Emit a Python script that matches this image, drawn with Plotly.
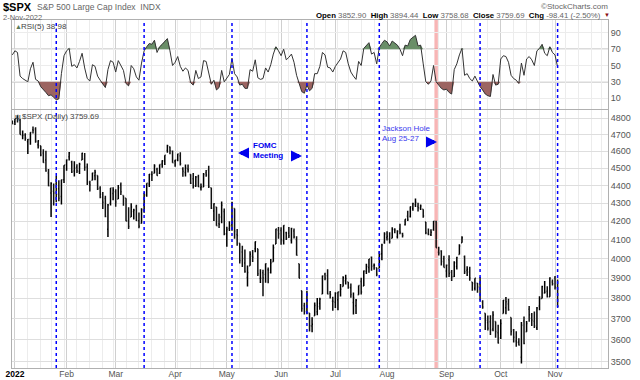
import pandas as pd
import plotly.graph_objects as go
from plotly.subplots import make_subplots

# ---------------- calendar ----------------
holidays = ["2022-01-17", "2022-02-21", "2022-04-15", "2022-05-30", "2022-06-20",
            "2022-07-04", "2022-09-05", "2022-11-24"]
dates = ["2021-12-31"] + [d.strftime("%Y-%m-%d") for d in pd.bdate_range("2022-01-03", "2022-11-02")
                          if d.strftime("%Y-%m-%d") not in holidays]

# ---------------- $SPX daily OHLC ----------------
opens = [4775.21,
 4778.14, 4804.51, 4787.99, 4693.39, 4697.66, 4655.34, 4669.14, 4728.59, 4733.56, 4637.99, 4632.24, 4588.03, 4547.35, 4471.38, 4356.32, 4366.64, 4408.43, 4380.58, 4336.19, 4431.79,
 4519.57, 4566.39, 4535.41, 4482.79, 4505.75, 4480.02, 4547.00, 4553.24, 4506.27, 4412.61, 4429.28, 4455.75, 4456.06, 4384.57, 4332.74, 4324.93, 4155.77, 4298.38, 4354.17,
 4363.14, 4322.56, 4401.31, 4342.12, 4327.01, 4202.66, 4223.10, 4252.55, 4279.50, 4202.75, 4188.82, 4288.14, 4345.11, 4407.34, 4462.40, 4469.10, 4493.10, 4469.98, 4522.91, 4541.09, 4602.86, 4624.20, 4599.02,
 4540.32, 4547.97, 4572.45, 4494.17, 4474.65, 4494.15, 4462.64, 4437.59, 4394.30, 4449.12, 4385.63, 4390.63, 4472.26, 4489.17, 4385.83, 4255.34, 4278.14, 4186.52, 4222.58, 4253.75,
 4130.61, 4159.78, 4181.18, 4270.43, 4128.17, 4081.27, 4035.18, 3978.61, 3903.95, 3963.90, 4013.02, 4052.00, 4051.98, 3899.00, 3927.76, 3919.42, 3942.94, 3929.59, 3984.60, 4077.43, 4151.09,
 4149.78, 4095.41, 4137.57, 4134.72, 4096.47, 4147.12, 4101.65, 3974.39, 3838.15, 3763.52, 3764.05, 3728.18, 3665.90, 3715.31, 3733.89, 3774.71, 3821.75, 3920.76, 3913.00, 3825.09, 3785.99,
 3781.00, 3792.61, 3831.98, 3858.85, 3888.26, 3880.94, 3851.95, 3779.67, 3763.99, 3818.00, 3883.79, 3860.73, 3935.32, 3955.47, 4007.40, 3965.72, 3953.22, 3951.43, 4026.13, 4087.33,
 4112.38, 4104.21, 4107.96, 4154.85, 4115.87, 4155.93, 4133.11, 4181.02, 4227.40, 4225.02, 4269.37, 4290.46, 4280.40, 4273.13, 4266.31, 4195.08, 4133.09, 4126.55, 4153.26, 4198.74, 4034.58, 4041.25, 4000.67,
 3936.73, 3994.66, 3930.89, 3909.43, 3959.94, 4022.94, 4083.67, 4010.00, 3940.73, 3932.41, 3880.95, 3849.91, 3875.23, 3871.40, 3782.36, 3727.14, 3682.72, 3686.44, 3651.94, 3687.01, 3633.48,
 3609.78, 3726.46, 3753.25, 3771.97, 3706.74, 3647.51, 3595.86, 3590.83, 3520.37, 3690.41, 3638.65, 3746.26, 3703.11, 3689.05, 3657.10, 3762.01, 3799.44, 3825.97, 3834.69, 3808.26, 3881.85,
 3901.79, 3852.90]

highs = [4786.83,
 4796.64, 4818.62, 4797.70, 4725.01, 4707.95, 4673.02, 4714.13, 4748.83, 4744.13, 4665.13, 4632.24, 4611.55, 4602.11, 4494.52, 4417.35, 4411.01, 4453.23, 4428.74, 4432.72, 4516.89,
 4550.49, 4595.31, 4542.88, 4539.66, 4521.86, 4531.32, 4590.03, 4588.92, 4526.33, 4426.22, 4472.77, 4489.55, 4456.06, 4394.60, 4362.12, 4341.51, 4294.73, 4385.34, 4388.84,
 4378.45, 4401.48, 4416.78, 4342.12, 4327.01, 4276.94, 4299.40, 4268.28, 4291.01, 4247.57, 4271.05, 4357.86, 4412.67, 4465.40, 4481.75, 4522.00, 4501.07, 4520.58, 4546.03, 4575.65, 4637.30, 4627.77, 4603.07,
 4548.70, 4583.50, 4593.45, 4503.94, 4521.16, 4520.41, 4464.35, 4471.00, 4453.92, 4460.46, 4410.31, 4471.03, 4488.29, 4512.94, 4385.83, 4299.02, 4278.14, 4240.71, 4308.45, 4269.68,
 4169.81, 4200.10, 4307.66, 4270.43, 4157.69, 4081.27, 4068.82, 4049.09, 3964.80, 4038.88, 4046.46, 4090.72, 4051.98, 3945.96, 3943.42, 3975.15, 3955.68, 3999.33, 4075.14, 4158.49, 4168.34,
 4166.54, 4177.51, 4142.67, 4168.78, 4164.86, 4160.14, 4119.10, 3974.39, 3838.15, 3778.18, 3837.56, 3728.18, 3707.71, 3779.65, 3801.79, 3802.58, 3913.65, 3927.72, 3945.86, 3836.50, 3807.50,
 3829.82, 3832.19, 3870.91, 3910.63, 3918.50, 3880.94, 3873.41, 3829.44, 3796.41, 3863.62, 3902.44, 3939.81, 3974.13, 3999.29, 4012.44, 3975.30, 3953.22, 4039.56, 4078.95, 4140.15,
 4144.95, 4140.47, 4167.66, 4161.29, 4151.58, 4186.62, 4137.30, 4211.03, 4257.91, 4280.47, 4301.79, 4325.28, 4302.18, 4292.53, 4266.31, 4195.08, 4159.77, 4156.56, 4200.54, 4203.04, 4062.99, 4044.98, 4015.37,
 3970.23, 4018.43, 3942.55, 3987.89, 4010.50, 4076.81, 4119.28, 4017.00, 3961.94, 3959.14, 3880.95, 3900.45, 3876.01, 3907.07, 3790.68, 3727.14, 3715.67, 3717.53, 3736.74, 3687.01, 3671.44,
 3698.35, 3791.92, 3806.91, 3797.93, 3706.74, 3652.17, 3640.66, 3608.34, 3685.41, 3712.00, 3689.73, 3762.79, 3728.58, 3736.00, 3757.89, 3810.74, 3862.85, 3886.15, 3859.95, 3905.42, 3893.73,
 3911.79, 3894.44]

lows = [4765.75,
 4758.17, 4774.27, 4699.44, 4671.26, 4662.74, 4582.24, 4638.27, 4706.71, 4650.29, 4614.75, 4568.70, 4530.20, 4477.95, 4395.34, 4222.62, 4287.11, 4304.80, 4309.50, 4292.46, 4414.02,
 4483.53, 4544.32, 4470.39, 4451.50, 4471.47, 4465.40, 4547.00, 4484.31, 4401.41, 4364.84, 4429.28, 4429.68, 4373.81, 4327.22, 4267.11, 4221.51, 4114.65, 4286.83, 4315.12,
 4279.54, 4322.56, 4345.56, 4284.98, 4199.85, 4157.87, 4223.10, 4209.80, 4200.49, 4161.72, 4187.90, 4246.69, 4335.65, 4390.57, 4424.30, 4469.10, 4455.81, 4465.17, 4501.07, 4517.69, 4589.66, 4581.32, 4530.41,
 4507.57, 4539.21, 4514.17, 4450.04, 4450.30, 4474.60, 4408.38, 4381.34, 4392.70, 4390.77, 4370.30, 4390.63, 4448.76, 4384.47, 4267.62, 4200.82, 4175.04, 4162.90, 4188.63, 4124.28,
 4062.51, 4147.08, 4148.91, 4106.01, 4067.91, 3975.48, 3958.17, 3928.82, 3858.87, 3963.90, 3983.99, 4033.93, 3911.91, 3876.58, 3810.32, 3877.97, 3875.13, 3925.03, 3984.60, 4077.43, 4104.88,
 4073.85, 4074.37, 4098.67, 4109.18, 4080.19, 4107.20, 4017.17, 3900.16, 3734.30, 3721.56, 3722.30, 3639.77, 3636.87, 3715.31, 3717.69, 3743.52, 3821.75, 3889.66, 3820.14, 3799.02, 3738.67,
 3752.10, 3742.06, 3809.37, 3858.85, 3869.34, 3847.22, 3802.36, 3721.56, 3723.27, 3817.18, 3818.63, 3860.73, 3922.03, 3927.64, 3938.24, 3943.46, 3910.74, 3951.43, 3992.97, 4079.22,
 4096.02, 4079.81, 4107.96, 4135.42, 4107.31, 4128.97, 4112.09, 4177.26, 4201.41, 4219.78, 4256.90, 4277.77, 4253.08, 4261.98, 4218.70, 4129.86, 4124.03, 4119.97, 4147.59, 4057.66, 4017.42, 3965.21, 3954.53,
 3903.65, 3906.21, 3886.75, 3906.03, 3944.81, 4022.94, 4083.67, 3921.29, 3912.20, 3888.28, 3837.08, 3838.50, 3827.54, 3789.49, 3749.45, 3647.47, 3644.76, 3623.29, 3640.61, 3610.40, 3584.13,
 3604.93, 3726.46, 3722.66, 3739.22, 3620.73, 3588.10, 3568.45, 3573.86, 3491.58, 3579.68, 3638.65, 3686.53, 3666.51, 3656.44, 3647.42, 3741.65, 3799.44, 3824.07, 3803.79, 3808.26, 3863.18,
 3843.80, 3758.68]

closes = [4766.18,
 4796.56, 4793.54, 4700.58, 4696.05, 4677.03, 4670.29, 4713.07, 4726.35, 4659.03, 4662.85, 4577.11, 4532.76, 4482.73, 4397.94, 4410.13, 4356.45, 4349.93, 4326.51, 4431.85, 4515.55,
 4546.54, 4589.38, 4477.44, 4500.53, 4483.87, 4521.54, 4587.18, 4504.08, 4418.64, 4401.67, 4471.07, 4475.01, 4380.26, 4348.87, 4304.76, 4225.50, 4288.70, 4384.65, 4373.94,
 4306.26, 4386.54, 4363.49, 4328.87, 4201.09, 4170.70, 4277.88, 4259.52, 4204.31, 4173.11, 4262.45, 4357.86, 4411.67, 4463.12, 4461.18, 4511.61, 4456.24, 4520.16, 4543.06, 4575.52, 4631.60, 4602.45, 4530.41,
 4545.86, 4582.64, 4525.12, 4481.15, 4500.21, 4488.28, 4412.53, 4397.45, 4446.59, 4392.59, 4391.69, 4462.21, 4459.45, 4393.66, 4271.78, 4296.12, 4175.20, 4183.96, 4287.50, 4131.93,
 4155.38, 4175.48, 4300.17, 4146.87, 4123.34, 3991.24, 4001.05, 3935.18, 3930.08, 4023.89, 4008.01, 4088.85, 3923.68, 3900.79, 3901.36, 3973.75, 3941.48, 3978.73, 4057.84, 4158.24, 4132.15,
 4101.23, 4176.82, 4108.54, 4121.43, 4160.68, 4115.77, 4017.82, 3900.86, 3749.63, 3735.48, 3789.99, 3666.77, 3674.84, 3764.79, 3759.89, 3795.73, 3911.74, 3900.11, 3821.55, 3818.83, 3785.38,
 3825.33, 3831.39, 3845.08, 3902.62, 3899.38, 3854.43, 3818.80, 3801.78, 3790.38, 3863.16, 3830.85, 3936.69, 3959.90, 3998.95, 3961.63, 3966.84, 3921.05, 4023.61, 4072.43, 4130.29,
 4118.63, 4091.19, 4155.17, 4151.94, 4145.19, 4140.06, 4122.47, 4210.24, 4207.27, 4280.15, 4297.14, 4305.20, 4274.04, 4283.74, 4228.48, 4137.99, 4128.73, 4140.77, 4199.12, 4057.66, 4030.61, 3986.16, 3955.00,
 3966.85, 3924.26, 3908.19, 3979.87, 4006.18, 4067.36, 4110.41, 3932.69, 3946.01, 3901.35, 3873.33, 3899.89, 3855.93, 3789.93, 3757.99, 3693.23, 3655.04, 3647.29, 3719.04, 3640.47, 3585.62,
 3678.43, 3790.93, 3783.28, 3744.52, 3639.66, 3612.39, 3588.84, 3577.03, 3669.91, 3583.07, 3677.95, 3719.98, 3695.16, 3665.78, 3752.75, 3797.34, 3859.11, 3830.60, 3807.30, 3901.06, 3871.98,
 3856.10, 3759.69]

# ---------------- RSI(5) ----------------
rsi5 = [63,
 68, 66, 37, 34, 32, 30, 46, 54, 33, 31, 24, 21, 17, 13, 14, 11, 8, 9, 40, 62,
 68, 71, 49, 51, 47, 55, 65, 47, 34, 31, 51, 49, 37, 32, 27, 23, 45, 56, 54,
 42, 56, 50, 44, 28, 25, 50, 46, 36, 32, 53, 68, 73, 77, 76, 81, 66, 73, 76, 79, 83, 68, 50,
 54, 61, 49, 43, 47, 44, 29, 26, 44, 34, 36, 56, 55, 40, 27, 32, 20, 23, 44, 30,
 35, 39, 59, 40, 36, 26, 27, 22, 22, 45, 43, 57, 35, 33, 34, 47, 42, 51, 64, 73, 68,
 62, 70, 57, 60, 64, 54, 38, 28, 18, 16, 26, 19, 22, 40, 40, 49, 66, 63, 48, 47, 42,
 49, 53, 58, 68, 66, 52, 42, 37, 33, 55, 50, 71, 74, 78, 64, 66, 52, 72, 77, 81,
 79, 74, 80, 78, 75, 70, 62, 75, 74, 82, 85, 87, 74, 75, 52, 30, 27, 31, 50, 30, 26, 22, 20,
 21, 17, 15, 45, 52, 63, 71, 38, 40, 34, 31, 37, 31, 24, 20, 15, 13, 12, 39, 26, 27,
 58, 62, 61, 54, 38, 34, 32, 28, 53, 38, 58, 61, 57, 50, 68, 71, 76, 65, 62, 73, 66,
 63, 48]

# ---------------- events / ticks ----------------
fomc_dates = ["2022-01-26", "2022-03-16", "2022-05-04", "2022-06-15", "2022-07-27", "2022-09-21", "2022-11-02"]
jackson_hole = "2022-08-26"
month_ticks = ["2022-01-03", "2022-02-01", "2022-03-01", "2022-04-01", "2022-05-02", "2022-06-01",
               "2022-07-01", "2022-08-01", "2022-09-01", "2022-10-03", "2022-11-01"]
month_labels = ["<b><span style='color:#000'>2022</span></b>", "Feb", "Mar", "Apr", "May", "Jun",
                "Jul", "Aug", "Sep", "Oct", "Nov"]
price_ticks = [3500, 3600, 3700, 3800, 3900, 4000, 4100, 4200, 4300, 4400, 4500, 4600, 4700, 4800]
rsi_ticks = [10, 30, 50, 70, 90]

assert len(dates) == len(opens) == len(highs) == len(lows) == len(closes) == len(rsi5)

# weekly minor grid (first trading day of each week)
week_starts = []
for m in pd.date_range("2022-01-03", "2022-11-28", freq="W-MON"):
    d = m
    while d.strftime("%Y-%m-%d") in holidays:
        d = d + pd.Timedelta(days=1)
    week_starts.append(d.strftime("%Y-%m-%d"))

# ---------------- figure ----------------
W, H = 640, 380
L, R, T, B = 12, 32, 20, 12
PW, PH = W - L - R, H - T - B


def px(x):
    return (x - L) / PW


def py(y):
    return (H - B - y) / PH


fig = make_subplots(rows=2, cols=1, shared_xaxes=True, vertical_spacing=0.0)

up_green = [max(v, 70) for v in rsi5]
dn_red = [min(v, 30) for v in rsi5]
fig.add_trace(go.Scatter(x=dates, y=[70] * len(dates), mode="lines", line=dict(width=0),
                         hoverinfo="skip", showlegend=False), row=1, col=1)
fig.add_trace(go.Scatter(x=dates, y=up_green, mode="lines", line=dict(width=0), fill="tonexty",
                         fillcolor="#6a8f68", hoverinfo="skip", showlegend=False), row=1, col=1)
fig.add_trace(go.Scatter(x=dates, y=[30] * len(dates), mode="lines", line=dict(width=0),
                         hoverinfo="skip", showlegend=False), row=1, col=1)
fig.add_trace(go.Scatter(x=dates, y=dn_red, mode="lines", line=dict(width=0), fill="tonexty",
                         fillcolor="#9c6461", hoverinfo="skip", showlegend=False), row=1, col=1)
fig.add_trace(go.Scatter(x=dates, y=rsi5, mode="lines", line=dict(color="#333333", width=1),
                         showlegend=False, name="RSI(5)"), row=1, col=1)

fig.add_trace(go.Ohlc(x=dates, open=opens, high=highs, low=lows, close=closes,
                      increasing=dict(line=dict(color="#000000", width=1.5)),
                      decreasing=dict(line=dict(color="#111111", width=1.5)),
                      tickwidth=0.35, showlegend=False, name="$SPX"), row=2, col=1)

xr = ["2021-12-30 21:00", "2022-11-30 12:00"]
rb = [dict(bounds=["sat", "mon"]), dict(values=holidays)]
fig.update_xaxes(range=xr, rangebreaks=rb, rangeslider_visible=False, automargin=False,
                 showgrid=True, gridcolor="#cfcfcf", gridwidth=1,
                 tickmode="array", tickvals=month_ticks, ticktext=month_labels,
                 minor=dict(tickmode="array", tickvals=week_starts, showgrid=True,
                            gridcolor="#ececec", gridwidth=1),
                 showline=True, linecolor="#b0b0b0", mirror=True, linewidth=1,
                 ticks="", zeroline=False,
                 tickfont=dict(family="Liberation Sans, Arial", size=8.5, color="#555"))
fig.update_xaxes(showticklabels=False, row=1, col=1)
fig.update_xaxes(showticklabels=True, ticklabelstandoff=-2, row=2, col=1)

fig.update_layout(
    yaxis=dict(domain=[0.745, 1.0], range=[-3, 105.8], side="right", tickmode="array",
               tickvals=rsi_ticks, ticktext=[str(v) for v in rsi_ticks], showgrid=True,
               gridcolor="#ececec", zeroline=False, showline=True, mirror=True, linecolor="#b0b0b0",
               ticks="", automargin=False,
               tickfont=dict(family="Liberation Sans, Arial", size=9, color="#555")),
    yaxis2=dict(domain=[0.0, 0.7414], type="log", range=[3.54052, 3.68592], side="right",
                tickmode="array", tickvals=price_ticks, ticktext=[str(v) for v in price_ticks],
                showgrid=True, gridcolor="#dedede", zeroline=False, showline=True, mirror=True,
                linecolor="#b0b0b0", ticks="", automargin=False,
                tickfont=dict(family="Liberation Sans, Arial", size=9, color="#555")),
)

shapes = []
# RSI reference lines
for lvl, dash, col in [(70, "solid", "#8a8a8a"), (30, "solid", "#8a8a8a"), (50, "dashdot", "#9a9a9a")]:
    shapes.append(dict(type="line", xref="x domain", yref="y", x0=0, x1=1, y0=lvl, y1=lvl,
                       line=dict(color=col, width=1, dash=dash), layer="below"))
# Jackson Hole band
jh = pd.Timestamp(jackson_hole)
shapes.append(dict(type="rect", xref="x2", yref="paper",
                   x0=(jh - pd.Timedelta(hours=16)).strftime("%Y-%m-%d %H:%M"),
                   x1=(jh + pd.Timedelta(hours=16)).strftime("%Y-%m-%d %H:%M"),
                   y0=0, y1=1, fillcolor="rgba(240,120,120,0.55)", line=dict(width=0), layer="below"))
# FOMC lines
for d in fomc_dates:
    shapes.append(dict(type="line", xref="x2", yref="paper", x0=d, x1=d, y0=0, y1=1,
                       line=dict(color="#0000ff", width=1.5, dash="dot"), layer="above"))
fig.update_layout(shapes=shapes)

F = "Liberation Sans, Arial, sans-serif"
ann = []


def txt(x, y, text, size=9, color="#666", xanchor="left", yanchor="middle", **kw):
    ann.append(dict(xref="paper", yref="paper", x=px(x), y=py(y), text=text, showarrow=False,
                    xanchor=xanchor, yanchor=yanchor, font=dict(family=F, size=size, color=color),
                    borderpad=0, **kw))


def arrow(x_head, y_head, dx):
    ann.append(dict(xref="paper", yref="paper", x=px(x_head), y=py(y_head), ax=dx, ay=0, text="",
                    showarrow=True, arrowhead=2, arrowsize=0.55, arrowwidth=4, arrowcolor="#0000ee",
                    standoff=0, startstandoff=0))


txt(2, 7, "<b>$SPX</b>", size=11, color="#000")
txt(36, 6.5, "S&P 500 Large Cap Index  INDX", size=8.5, color="#666")
txt(2, 17.5, "2-Nov-2022", size=7.5, color="#666")
txt(609, 6.5, "©StockCharts.com", size=8, color="#666", xanchor="right")
hdr = ("<b><span style='color:#000'>Open</span></b> 3852.90  "
       "<b><span style='color:#000'>High</span></b> 3894.44  "
       "<b><span style='color:#000'>Low</span></b> 3758.68  "
       "<b><span style='color:#000'>Close</span></b> 3759.69  "
       "<b><span style='color:#000'>Chg</span></b> -98.41 (-2.50%)")
txt(602, 15.5, hdr, size=7.8, color="#666", xanchor="right")
txt(603, 15.5, "▼", size=6, color="#8b1010")
txt(14, 26.5, "▲", size=7, color="#5a7a58")
txt(20, 26.5, "RSI(5) 38.98", size=8, color="#444")
txt(14, 116, "ψ", size=8, color="#333")
txt(21, 116, "$SPX (Daily) 3759.69", size=8, color="#444")

# FOMC annotation
txt(252, 150, "<b>FOMC<br>Meeting</b>", size=8, color="#0000ee", align="left")
arrow(238, 153, 12)
arrow(302, 156, -12)
# Jackson Hole annotation
txt(381, 133, "Jackson Hole<br>Aug 25-27", size=8, color="#3a3aee", align="left")
arrow(437, 142, -12)

fig.update_layout(annotations=ann, width=W, height=H, autosize=False,
                  margin=dict(l=L, r=R, t=T, b=B, pad=0, autoexpand=False),
                  paper_bgcolor="white", plot_bgcolor="white", showlegend=False,
                  font=dict(family=F, size=9, color="#555"), hovermode=False)

fig.write_html("out.html", config={"displayModeBar": False},
               post_script="document.body.style.margin='0';document.body.style.overflow='hidden';")
